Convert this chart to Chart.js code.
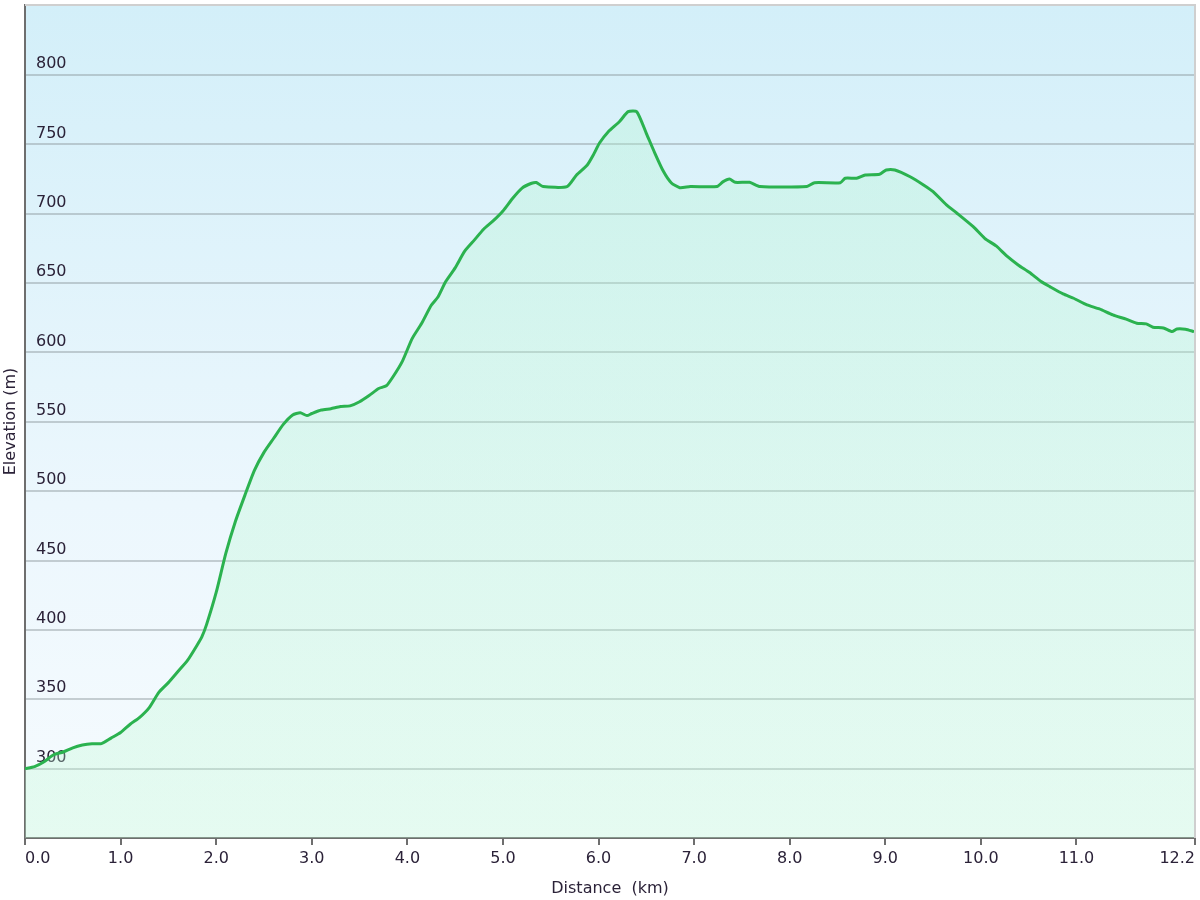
<!DOCTYPE html>
<html>
<head>
<meta charset="utf-8">
<script src="https://cdn.jsdelivr.net/npm/chart.js@4.4.1/dist/chart.umd.min.js"></script>
<style>
html,body{margin:0;padding:0;background:#ffffff;}
#wrap{width:1200px;height:900px;}
</style>
</head>
<body>
<div id="wrap"><canvas id="c" width="1200" height="900"></canvas></div>
<script>
// Distance along the route (km)
const distanceKm = [
  0.00, 0.10, 0.20, 0.30, 0.40, 0.50, 0.60, 0.70, 0.80, 0.90,
  1.00, 1.10, 1.20, 1.30, 1.40, 1.50, 1.60, 1.70, 1.80, 1.85,
  1.90, 2.00, 2.10, 2.20, 2.30, 2.40, 2.50, 2.60, 2.70, 2.80,
  2.88, 2.95, 3.00, 3.10, 3.20, 3.30, 3.40, 3.50, 3.60, 3.70,
  3.78, 3.85, 3.95, 4.05, 4.15, 4.25, 4.32, 4.40, 4.50, 4.60,
  4.70, 4.80, 4.90, 5.00, 5.10, 5.20, 5.30, 5.35, 5.42, 5.67,
  5.77, 5.88, 5.95, 6.01, 6.10, 6.22, 6.31, 6.40, 6.50, 6.59,
  6.68, 6.76, 6.85, 6.96, 7.24, 7.30, 7.37, 7.43, 7.58, 7.69,
  8.18, 8.26, 8.53, 8.58, 8.70, 8.79, 8.94, 9.01, 9.10, 9.26,
  9.40, 9.50, 9.64, 9.75, 9.92, 10.04, 10.16, 10.27, 10.39, 10.51,
  10.63, 10.72, 10.86, 10.97, 11.11, 11.24, 11.38, 11.52, 11.63, 11.73,
  11.80, 11.91, 12.00, 12.05, 12.14, 12.23
];
// Elevation (m)
const elevationM = [
  300, 301.5, 305, 310, 312, 315, 317, 318, 318, 322,
  326, 332, 337, 344, 355, 362, 370, 378, 389, 395,
  404, 427, 455, 478, 497, 515, 528, 538, 548, 555,
  556.5, 554.5, 556, 558.5, 559.5, 561, 561.5, 564.5, 569, 574,
  576, 582.5, 594, 610, 621, 634, 640, 651, 661, 673,
  681, 689, 695, 702, 711, 718.5, 722, 722.5, 719.6, 719.6,
  728, 735, 743, 751, 759, 766.5, 773.6, 773.6, 758, 743.6,
  730.4, 722.4, 718.8, 719.6, 719.6, 723, 725, 722.7, 722.7, 719.6,
  719.6, 722.4, 722.4, 725.6, 725.6, 728, 728.5, 731.6, 731.6, 726.7,
  720.8, 716, 706.4, 700.4, 690.7, 682.3, 676.8, 669.6, 663.1, 657.6,
  651.1, 647.5, 642.2, 639.1, 634.3, 631.4, 627.1, 624, 621.1, 620.6,
  618.2, 617.7, 615.1, 617, 616.8, 615
];
// Axis ticks
const xTickValues = [0, 1, 2, 3, 4, 5, 6, 7, 8, 9, 10, 11, 12.24];
const yTickValues = [300, 350, 400, 450, 500, 550, 600, 650, 700, 750, 800];
const xAxisTitle = 'Distance  (km)';
const yAxisTitle = 'Elevation (m)';

const FONT = 'DejaVu Sans, Verdana, sans-serif';

const bgPlugin = {
  id: 'bg',
  beforeDraw(chart) {
    const {ctx, chartArea: a} = chart;
    const g = ctx.createLinearGradient(0, a.top, 0, a.bottom);
    g.addColorStop(0, '#d3eff9');
    g.addColorStop(0.6, '#ecf7fd');
    g.addColorStop(1, '#f6fbfe');
    ctx.save();
    ctx.fillStyle = g;
    ctx.fillRect(a.left, a.top, a.right - a.left, a.bottom - a.top);
    ctx.restore();
  },
  afterDraw(chart) {
    const {ctx, chartArea: a} = chart;
    ctx.save();
    ctx.strokeStyle = '#cfcfcf';
    ctx.lineWidth = 2;
    ctx.beginPath();
    ctx.moveTo(a.left, a.top);
    ctx.lineTo(a.right, a.top);
    ctx.lineTo(a.right, a.bottom);
    ctx.stroke();
    ctx.restore();
  }
};

const ctx = document.getElementById('c').getContext('2d');
new Chart(ctx, {
  type: 'line',
  data: {
    datasets: [{
      data: distanceKm.map((d, i) => ({x: d, y: elevationM[i]})),
      borderColor: '#2bb24f',
      borderWidth: 3,
      pointRadius: 0,
      tension: 0.2,
      fill: 'start',
      backgroundColor: (c) => {
        const a = c.chart.chartArea;
        if (!a) return 'rgba(170,240,195,0.3)';
        const g = c.chart.ctx.createLinearGradient(0, a.top, 0, a.bottom);
        g.addColorStop(0, 'rgba(175,245,205,0.30)');
        g.addColorStop(1, 'rgba(190,250,210,0.30)');
        return g;
      }
    }]
  },
  options: {
    responsive: false,
    animation: false,
    layout: {padding: {top: 5, right: 5, left: 0, bottom: 0}},
    plugins: {legend: {display: false}, tooltip: {enabled: false}},
    scales: {
      x: {
        type: 'linear',
        min: 0,
        max: 12.24,
        afterFit(s) { s.height = 62; s.paddingLeft = 0; s.paddingRight = 0; },
        afterBuildTicks(s) { s.ticks = xTickValues.map(v => ({value: v})); },
        border: {color: '#6e6e6e', width: 2},
        grid: {drawOnChartArea: false, drawTicks: true, tickLength: 7, color: '#6e6e6e', lineWidth: 2},
        ticks: {
          align: 'inner',
          maxRotation: 0,
          autoSkip: false,
          padding: 4,
          color: '#2b2238',
          font: {family: FONT, size: 16},
          callback: (v) => Number(v).toFixed(1)
        },
        title: {display: true, text: xAxisTitle, color: '#2b2238', font: {family: FONT, size: 16}, padding: {top: 0, bottom: 2}}
      },
      y: {
        type: 'linear',
        min: 250,
        max: 850.5,
        afterFit(s) { s.width = 25; s.paddingTop = 0; s.paddingBottom = 0; },
        afterBuildTicks(s) { s.ticks = yTickValues.map(v => ({value: v})); },
        border: {color: '#6e6e6e', width: 2},
        grid: {drawTicks: false, color: 'rgba(140,150,155,0.45)', lineWidth: 2},
        ticks: {
          mirror: true,
          padding: 11,
          labelOffset: -11,
          color: '#2b2238',
          font: {family: FONT, size: 16}
        },
        title: {display: true, text: yAxisTitle, color: '#2b2238', font: {family: FONT, size: 16}, padding: {top: 1, bottom: 0}}
      }
    }
  },
  plugins: [bgPlugin]
});
</script>
</body>
</html>
